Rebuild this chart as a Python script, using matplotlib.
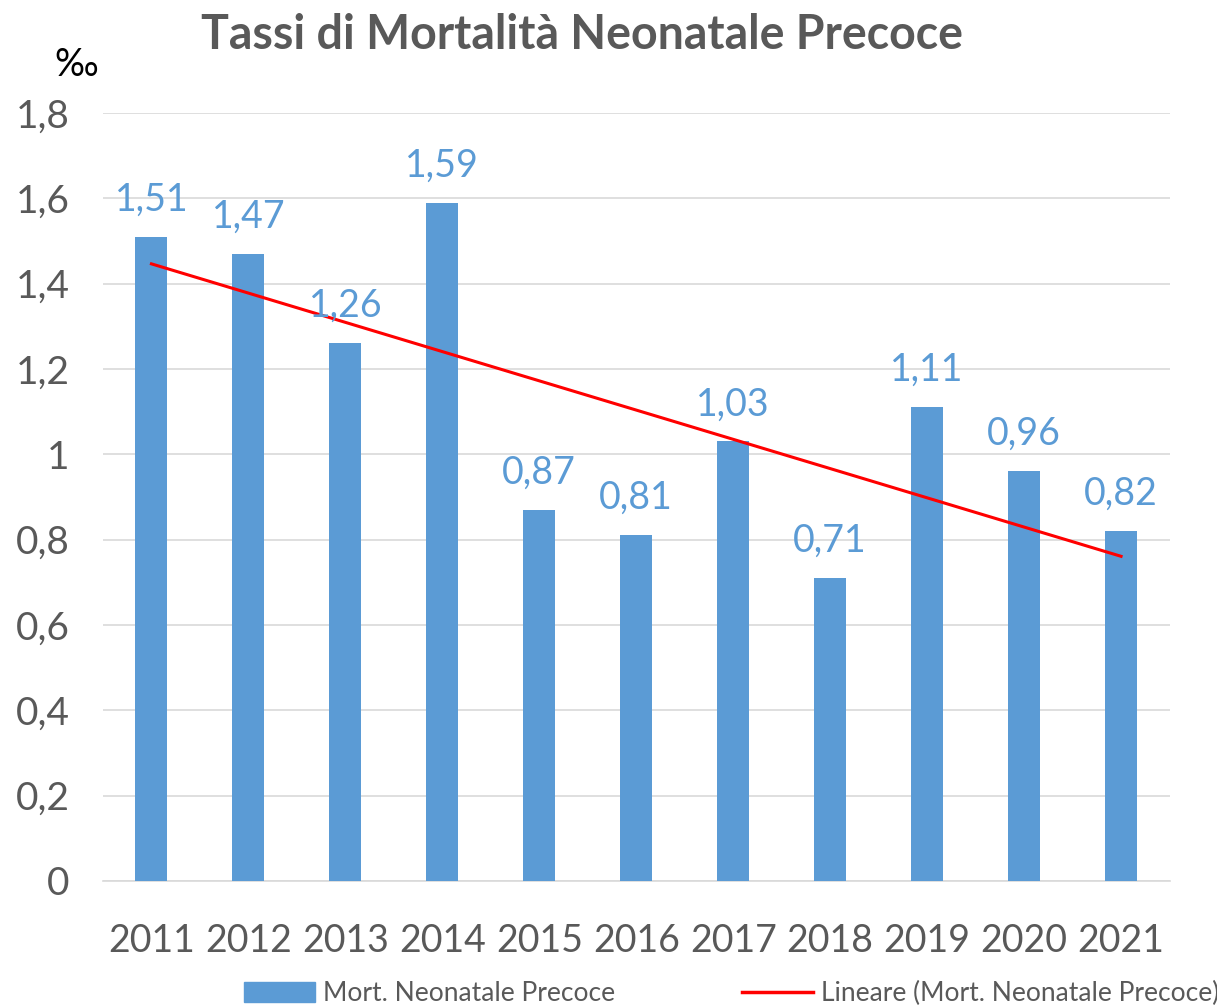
import numpy as np
import matplotlib.pyplot as plt
from matplotlib.lines import Line2D
from matplotlib.patches import Patch

# Data
years = ["2011", "2012", "2013", "2014", "2015", "2016", "2017", "2018", "2019", "2020", "2021"]
rates = [1.51, 1.47, 1.26, 1.59, 0.87, 0.81, 1.03, 0.71, 1.11, 0.96, 0.82]
yticks = [0, 0.2, 0.4, 0.6, 0.8, 1.0, 1.2, 1.4, 1.6, 1.8]

bar_color = "#5B9BD5"
text_gray = "#595959"
plt.rcParams["font.family"] = ["Lato", "DejaVu Sans"]

fig = plt.figure(figsize=(12.17, 10.06), dpi=100)
ax = fig.add_axes([0.0846, 0.1243, 0.8764, 0.7634])

x = np.arange(len(years))
ax.bar(x, rates, width=0.33, color=bar_color, zorder=3)

# linear trend line (Excel "Lineare")
slope, intercept = np.polyfit(x, rates, 1)
ax.plot(x, slope * x + intercept, color="#FF0000", lw=2.2, zorder=4)

for xi, v in zip(x, rates):
    ax.text(xi, v + 0.045, f"{v:.2f}".replace(".", ","), ha="center", va="bottom",
            fontsize=27, color=bar_color, zorder=5)

ax.set_xlim(-0.5, len(years) - 0.5)
ax.set_ylim(0, 1.8)
ax.set_xticks(x)
ax.set_xticklabels(years)
ax.set_yticks(yticks)
ax.set_yticklabels([f"{t:g}".replace(".", ",") for t in yticks])
ax.tick_params(axis="x", length=0, pad=30, labelsize=27, colors=text_gray)
ax.tick_params(axis="y", length=0, pad=24, labelsize=28, colors=text_gray)
ax.grid(axis="y", color="#D9D9D9", lw=1.2, zorder=0)
for s in ["top", "right", "left"]:
    ax.spines[s].set_visible(False)
ax.spines["bottom"].set_color("#D9D9D9")
ax.spines["bottom"].set_linewidth(1.2)

fig.text(0.478, 0.965, "Tassi di Mortalità Neonatale Precoce", ha="center", va="center",
         fontsize=33.5, fontweight="bold", color=text_gray)
fig.text(0.0625, 0.935, "‰", ha="center", va="center", fontsize=27, color="black")

handles = [Patch(color=bar_color), Line2D([0], [0], color="#FF0000", lw=2.5)]
fig.legend(handles, ["Mort. Neonatale Precoce", "Lineare (Mort. Neonatale Precoce)"],
           loc="center", bbox_to_anchor=(0.601, 0.012), ncol=2, frameon=False,
           fontsize=19, labelcolor=text_gray, handlelength=2.7, handleheight=0.8,
           columnspacing=4.8, handletextpad=0.3)

fig.savefig("out.png", dpi=100)
